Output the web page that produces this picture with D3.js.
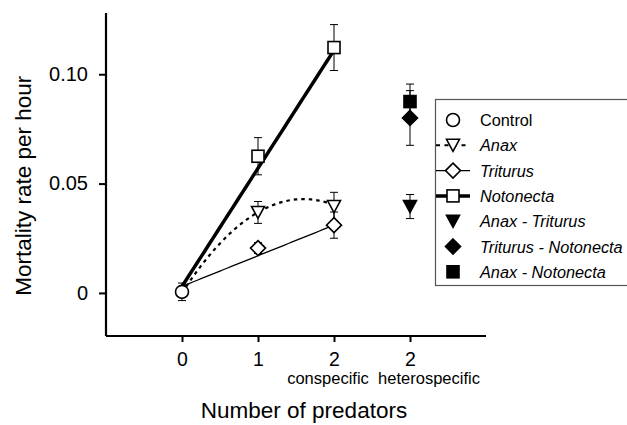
<!DOCTYPE html>
<html lang="en">
<head>
  <meta charset="UTF-8" />
  <title>Mortality rate per hour</title>
  <script src="https://cdn.jsdelivr.net/npm/d3@7"></script>
  <style>
    body, html { margin: 0; padding: 0; background: #fff; }
    svg text { font-family: Arial, "Liberation Sans", sans-serif; fill: #000; }
  </style>
</head>
<body>
  <svg id="chart" width="627" height="425"></svg>
  <script>
    // Mean mortality rate per hour (with SE)
    const controlPts = [{ x: 0, y: 0.0005, se: 0.004 }];
    const anaxPts = [{ x: 1, y: 0.0368, se: 0.005 }, { x: 2, y: 0.0395, se: 0.0065 }];
    const triturusPts = [{ x: 1, y: 0.0205, se: 0.0025 }, { x: 2, y: 0.031, se: 0.006 }];
    const notonectaPts = [{ x: 1, y: 0.0625, se: 0.0085 }, { x: 2, y: 0.1122, se: 0.0105 }];
    const anaxTriturusPts = [{ x: 3, y: 0.0395, se: 0.0055 }];
    const triturusNotonectaPts = [{ x: 3, y: 0.0800, se: 0.0125 }];
    const anaxNotonectaPts = [{ x: 3, y: 0.0875, se: 0.008 }];

    // fitted lines (intercept, slope, quadratic term) over x = 0..2
    const anaxFit = [0.0, 0.0537, -0.0168];
    const triturusFit = [0.003, 0.014, 0];
    const notonectaFit = [0.003, 0.054, 0];

    const xTickValues = [0, 1, 2, 3];
    const xTickLabels = ['0', '1', '2', '2'];
    const yTickValues = [0, 0.05, 0.10];
    const yTickLabels = ['0', '0.05', '0.10'];

    const svg = d3.select('#chart');
    const x = d3.scaleLinear().domain([-1, 4]).range([106, 486]);
    const y = d3.scaleLinear().domain([-0.0197, 0.128]).range([336, 13]);

    // fitted curves
    const fitLine = d3.line().x(d => x(d[0])).y(d => y(d[1]));
    function fitPoints(c) {
      return d3.range(0, 2.0001, 0.05).map(t => [t, c[0] + c[1] * t + c[2] * t * t]);
    }
    svg.append('path').attr('d', fitLine(fitPoints(triturusFit)))
      .attr('fill', 'none').attr('stroke', '#000').attr('stroke-width', 1.3);
    svg.append('path').attr('d', fitLine(fitPoints(anaxFit)))
      .attr('fill', 'none').attr('stroke', '#000').attr('stroke-width', 2.2)
      .attr('stroke-dasharray', '3.5,4');
    svg.append('path').attr('d', fitLine(fitPoints(notonectaFit)))
      .attr('fill', 'none').attr('stroke', '#000').attr('stroke-width', 3.5);

    // axes
    const yAxis = d3.axisLeft(y).tickValues(yTickValues)
      .tickFormat((d, i) => yTickLabels[i]).tickSize(7).tickPadding(11);
    const gy = svg.append('g').attr('transform', `translate(${x(-1)},0)`).call(yAxis);
    gy.select('.domain').attr('d', `M0,${y.range()[1]}V${y.range()[0]}`).attr('stroke-width', 2.2);
    gy.selectAll('.tick line').attr('stroke-width', 2);
    gy.selectAll('.tick text').attr('font-size', 20);

    const xAxis = d3.axisBottom(x).tickValues(xTickValues)
      .tickFormat((d, i) => xTickLabels[i]).tickSize(6).tickPadding(10);
    const gx = svg.append('g').attr('transform', `translate(0,${y(-0.0197)})`).call(xAxis);
    gx.select('.domain').attr('d', `M${x.range()[0]},0H${x.range()[1]}`).attr('stroke-width', 2.2);
    gx.selectAll('.tick line').attr('stroke-width', 2);
    gx.selectAll('.tick text').attr('font-size', 19.5);

    svg.append('text').attr('x', x(2) - 6).attr('y', 384).attr('text-anchor', 'middle')
      .attr('font-size', 16.5).text('conspecific');
    svg.append('text').attr('x', x(3) + 19).attr('y', 384).attr('text-anchor', 'middle')
      .attr('font-size', 16.5).text('heterospecific');

    svg.append('text').attr('x', 304).attr('y', 418).attr('text-anchor', 'middle')
      .attr('font-size', 22.5).text('Number of predators');
    svg.append('text').attr('transform', `translate(31,${y(0.049)}) rotate(-90)`)
      .attr('text-anchor', 'middle').attr('font-size', 22.5).text('Mortality rate per hour');

    // error bars
    const allPts = [].concat(controlPts, anaxPts, triturusPts, notonectaPts,
      anaxTriturusPts, triturusNotonectaPts, anaxNotonectaPts);
    const eb = svg.append('g').attr('stroke', '#000').attr('stroke-width', 1);
    allPts.forEach(d => {
      eb.append('line').attr('x1', x(d.x)).attr('x2', x(d.x))
        .attr('y1', y(d.y - d.se)).attr('y2', y(d.y + d.se));
      [d.y - d.se, d.y + d.se].forEach(v => {
        eb.append('line').attr('x1', x(d.x) - 4).attr('x2', x(d.x) + 4)
          .attr('y1', y(v)).attr('y2', y(v));
      });
    });

    // markers
    const triDown = 'M-6.5,-6L6.5,-6L0,6Z';
    const shapes = {
      circle: g => g.append('circle').attr('r', 6.5),
      tri: g => g.append('path').attr('d', triDown),
      diamond: g => g.append('path').attr('d', 'M0,-7.5L7.5,0L0,7.5L-7.5,0Z'),
      square: g => g.append('rect').attr('x', -6).attr('y', -6).attr('width', 12).attr('height', 12)
    };
    function drawMarkers(pts, shape, filled) {
      pts.forEach(d => {
        const g = svg.append('g').attr('transform', `translate(${x(d.x)},${y(d.y)})`);
        shapes[shape](g).attr('fill', filled ? '#000' : '#fff')
          .attr('stroke', '#000').attr('stroke-width', 1.6);
      });
    }
    drawMarkers(controlPts, 'circle', false);
    drawMarkers(triturusPts, 'diamond', false);
    drawMarkers(anaxPts, 'tri', false);
    drawMarkers(notonectaPts, 'square', false);
    drawMarkers(anaxTriturusPts, 'tri', true);
    drawMarkers(triturusNotonectaPts, 'diamond', true);
    drawMarkers(anaxNotonectaPts, 'square', true);

    // legend
    const legendItems = [
      { label: 'Control', shape: 'circle', filled: false, line: null, italic: false },
      { label: 'Anax', shape: 'tri', filled: false, line: 'dash', italic: true },
      { label: 'Triturus', shape: 'diamond', filled: false, line: 'thin', italic: true },
      { label: 'Notonecta', shape: 'square', filled: false, line: 'thick', italic: true },
      { label: 'Anax - Triturus', shape: 'tri', filled: true, line: null, italic: true },
      { label: 'Triturus - Notonecta', shape: 'diamond', filled: true, line: null, italic: true },
      { label: 'Anax - Notonecta', shape: 'square', filled: true, line: null, italic: true }
    ];
    const lg = svg.append('g');
    lg.append('rect').attr('x', 435.5).attr('y', 99.5).attr('width', 200).attr('height', 186)
      .attr('fill', '#fff').attr('stroke', '#555').attr('stroke-width', 1.2);
    legendItems.forEach((it, i) => {
      const cy = 120 + i * 25.3;
      if (it.line) {
        const ln = lg.append('line').attr('x1', 436).attr('x2', 470).attr('y1', cy).attr('y2', cy)
          .attr('stroke', '#000');
        if (it.line === 'dash') ln.attr('stroke-width', 2).attr('stroke-dasharray', '4,4.5');
        if (it.line === 'thin') ln.attr('stroke-width', 1.3);
        if (it.line === 'thick') ln.attr('stroke-width', 3.5);
      }
      const g = lg.append('g').attr('transform', `translate(453,${cy})`);
      shapes[it.shape](g).attr('fill', it.filled ? '#000' : '#fff')
        .attr('stroke', '#000').attr('stroke-width', 1.6);
      lg.append('text').attr('x', 480).attr('y', cy + 6).attr('font-size', 16.3)
        .attr('font-style', it.italic ? 'italic' : 'normal').text(it.label);
    });
  </script>
</body>
</html>
